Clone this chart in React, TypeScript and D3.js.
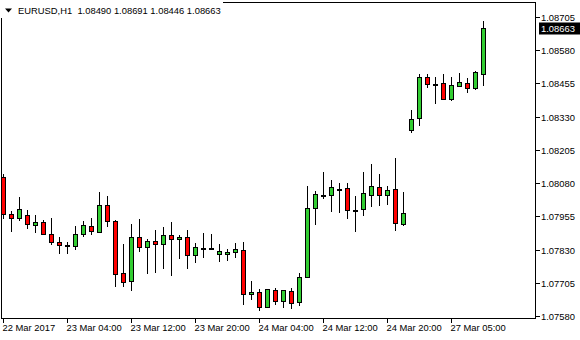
import React from "react";
import * as d3 from "d3";

// OHLC data (EURUSD H1)
const opens = [1.08104,1.07963,1.07948,1.07959,1.07921,1.07933,1.07889,1.07857,1.07846,1.07842,1.07888,1.07918,1.07897,1.07997,1.07938,1.07741,1.07711,1.07876,1.07839,1.07861,1.07850,1.07884,1.07869,1.07876,1.07809,1.07836,1.07835,1.07812,1.07812,1.07820,1.07827,1.07662,1.07669,1.07613,1.07677,1.07636,1.07673,1.07632,1.07726,1.07985,1.08037,1.08034,1.08058,1.08061,1.07979,1.07982,1.08034,1.08064,1.08034,1.08057,1.07925,1.08279,1.08324,1.08478,1.08454,1.08456,1.08395,1.08444,1.08456,1.08437,1.08490];
const highs = [1.08114,1.07975,1.08027,1.07979,1.07959,1.07940,1.07948,1.07876,1.07857,1.07918,1.07936,1.07948,1.08046,1.08032,1.07941,1.07851,1.07926,1.07945,1.07869,1.07904,1.07915,1.07934,1.07884,1.07904,1.07854,1.07892,1.07889,1.07850,1.07831,1.07854,1.07857,1.07711,1.07681,1.07681,1.07684,1.07677,1.07684,1.07741,1.08069,1.08051,1.08121,1.08091,1.08079,1.08079,1.08031,1.08121,1.08151,1.08113,1.08068,1.08173,1.08046,1.08354,1.08490,1.08490,1.08478,1.08490,1.08478,1.08493,1.08474,1.08501,1.08691];
const lows = [1.07944,1.07897,1.07939,1.07909,1.07894,1.07888,1.07846,1.07812,1.07815,1.07829,1.07876,1.07884,1.07891,1.07914,1.07690,1.07690,1.07675,1.07820,1.07738,1.07743,1.07758,1.07732,1.07796,1.07758,1.07781,1.07800,1.07827,1.07785,1.07788,1.07800,1.07620,1.07639,1.07598,1.07613,1.07620,1.07609,1.07605,1.07617,1.07722,1.07921,1.08019,1.07970,1.07967,1.07944,1.07897,1.07955,1.07991,1.07993,1.07997,1.07899,1.07918,1.08268,1.08294,1.08437,1.08377,1.08395,1.08388,1.08444,1.08418,1.08429,1.08446];
const closes = [1.07964,1.07948,1.07982,1.07925,1.07933,1.07888,1.07857,1.07846,1.07846,1.07888,1.07921,1.07899,1.07997,1.07938,1.07738,1.07708,1.07876,1.07839,1.07861,1.07850,1.07884,1.07869,1.07876,1.07809,1.07839,1.07836,1.07835,1.07824,1.07820,1.07831,1.07662,1.07669,1.07613,1.07681,1.07636,1.07677,1.07628,1.07726,1.07985,1.08038,1.08037,1.08064,1.08058,1.07978,1.07979,1.08042,1.08068,1.08034,1.08053,1.07929,1.07967,1.08320,1.08478,1.08452,1.08454,1.08395,1.08448,1.08459,1.08437,1.08497,1.08663];

const priceTicks = [1.08705, 1.08580, 1.08455, 1.08330, 1.08205, 1.08080, 1.07955, 1.07830, 1.07705, 1.07580];
const timeLabels = ["22 Mar 2017", "23 Mar 04:00", "23 Mar 12:00", "23 Mar 20:00", "24 Mar 04:00", "24 Mar 12:00", "24 Mar 20:00", "27 Mar 05:00"];
const timeLabelBars = [0, 8, 16, 24, 32, 40, 48, 56];
const titleText = "EURUSD,H1  1.08490 1.08691 1.08446 1.08663";
const lastPrice = 1.08663;

const W = 580, H = 340;
const FONT = "Tahoma, 'Liberation Sans', Arial, sans-serif";
const FS = 9.4;
const GREEN = "#32CD32";
const RED = "#FF0000";

export default function App() {
  const frameL = 1.5, frameR = 535.5, frameT = 2.5, frameB = 318.5;
  const y = d3.scaleLinear().domain([1.0758, 1.08705]).range([316, 17]);
  const x = d3.scaleLinear().domain([0, 60]).range([3.5, 483.5]);
  const idx = d3.range(opens.length);
  const snap = (v: number) => Math.round(v);

  const lp = snap(y(lastPrice));
  return (
    <svg width={W} height={H} style={{ position: "fixed", left: 0, top: 0, background: "#fff" }}>
      <rect x={0} y={0} width={W} height={H} fill="#fff" />
      {/* frame */}
      <rect x={frameL} y={frameT} width={frameR - frameL} height={frameB - frameT} fill="none" stroke="#000" strokeWidth={1} shapeRendering="crispEdges" />
      {/* candles */}
      <g shapeRendering="crispEdges">
        {idx.map((i) => {
          const cx = x(i);
          const o = opens[i], c = closes[i];
          const top = snap(y(Math.max(o, c)));
          const bot = snap(y(Math.min(o, c)));
          const hh = Math.max(1, bot - top);
          return (
            <g key={i}>
              <line x1={cx} x2={cx} y1={snap(y(highs[i]))} y2={snap(y(lows[i]))} stroke="#000" strokeWidth={1} />
              <rect x={cx - 2} y={top + 0.5} width={4} height={hh} fill={c >= o ? GREEN : RED} stroke="#000" strokeWidth={1} />
            </g>
          );
        })}
      </g>
      {/* price axis */}
      <g fontFamily={FONT} fontSize={FS} fill="#000">
        {priceTicks.map((p) => {
          const py = snap(y(p)) + 0.5;
          return (
            <g key={p}>
              <line x1={frameR} x2={frameR + 4} y1={py} y2={py} stroke="#000" shapeRendering="crispEdges" />
              <text x={541} y={py} dominantBaseline="central">{p.toFixed(5)}</text>
            </g>
          );
        })}
        <rect x={539} y={lp - 5.5} width={41} height={12} fill="#000" />
        <text x={541} y={lp + 0.5} dominantBaseline="central" fill="#fff">{lastPrice.toFixed(5)}</text>
      </g>
      {/* time axis */}
      <g fontFamily={FONT} fontSize={FS} fill="#000">
        {timeLabels.map((t, k) => {
          const tx = x(timeLabelBars[k]);
          return (
            <g key={t}>
              <line x1={tx} x2={tx} y1={frameB} y2={frameB + 4} stroke="#000" shapeRendering="crispEdges" />
              <text x={tx - 1} y={331}>{t}</text>
            </g>
          );
        })}
      </g>
      {/* title */}
      <rect x={0} y={0} width={223} height={18} fill="#fff" />
      <path d="M5,8.5 L12,8.5 L8.5,12.5 Z" fill="#000" />
      <text x={18} y={14.3} fontFamily={FONT} fontSize={FS} fill="#000" style={{ whiteSpace: "pre" }}>{titleText}</text>
    </svg>
  );
}
